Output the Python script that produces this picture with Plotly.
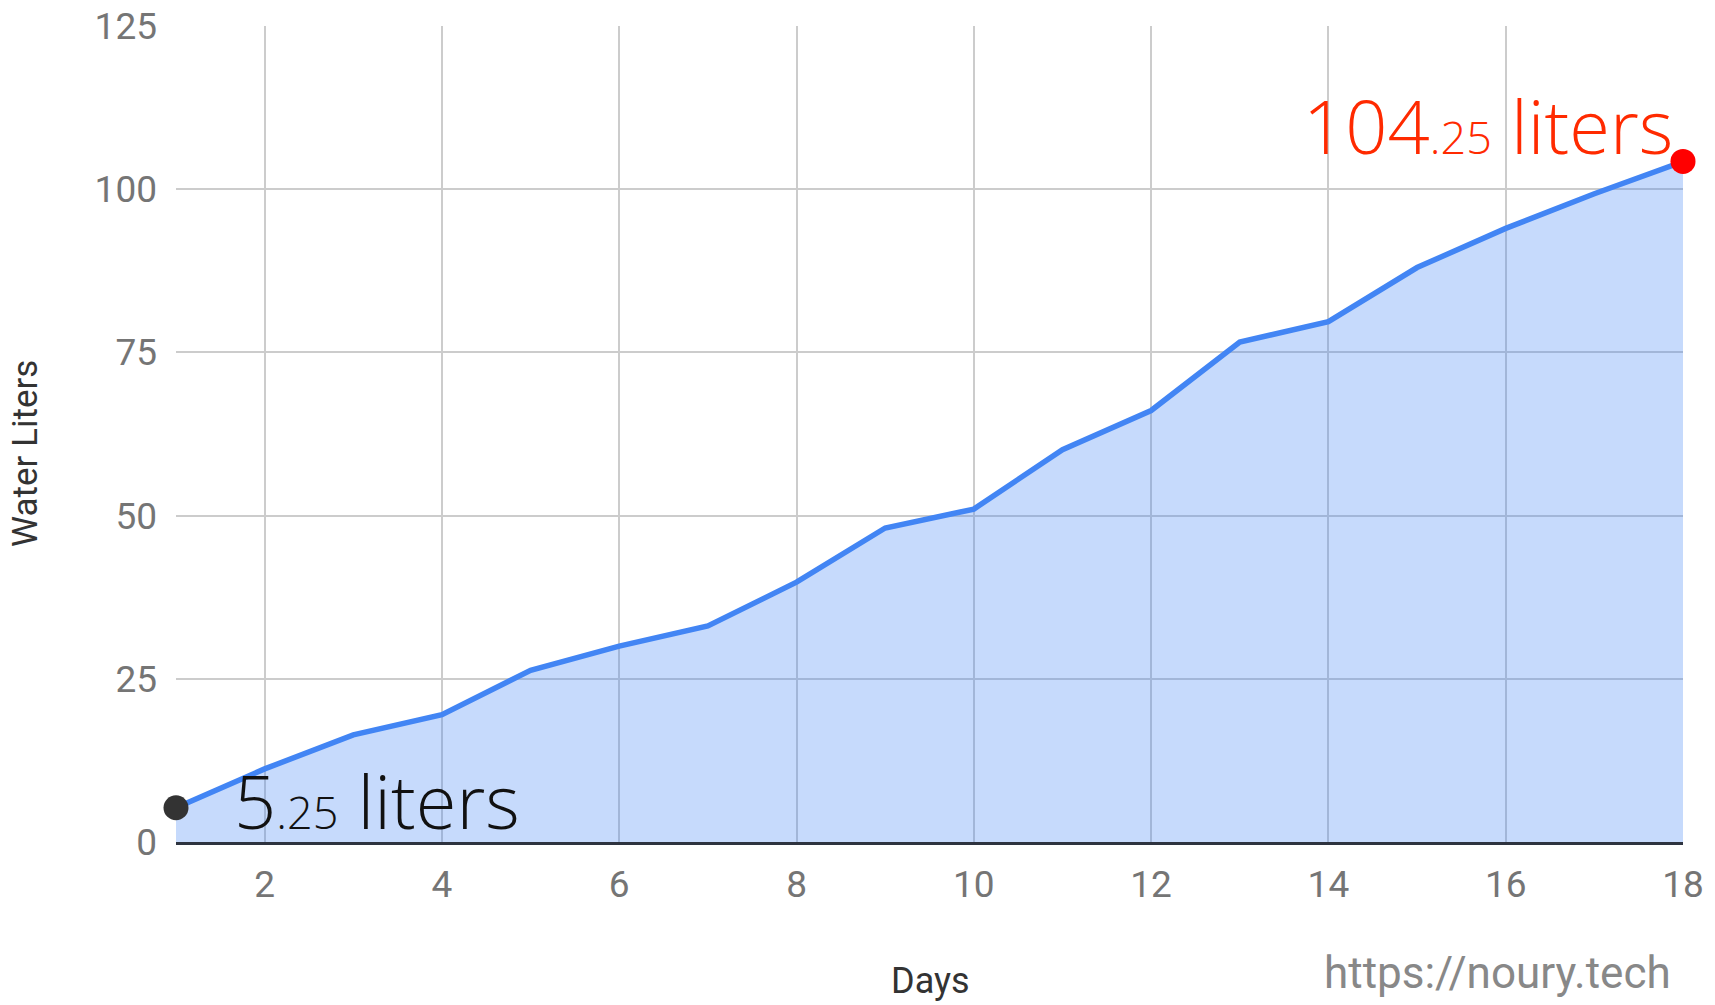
import plotly.graph_objects as go

days = list(range(1, 19))
liters = [5.25, 11.2, 16.4, 19.5, 26.3, 30.0, 33.1, 39.8, 48.1, 51.0,
          60.1, 66.1, 76.6, 79.7, 88.0, 94.0, 99.3, 104.25]
x_ticks = [2, 4, 6, 8, 10, 12, 14, 16, 18]
y_ticks = [0, 25, 50, 75, 100, 125]

W, H = 1715, 1005
OFF = 8  # page body margin
# target plot box in page pixels
PL, PR, PT, PB = 176, 1683, 26, 842
L, T = PL - OFF, PT - OFF
R = W - (PR - OFF)
B = H - (PB - OFF)
pw = PR - PL
ph = PB - PT

def px(xp):
    return (xp - PL) / pw

def py(yp):
    return (PB - yp) / ph

fig = go.Figure()
fig.add_trace(go.Scatter(
    x=days, y=liters, mode="lines", fill="tozeroy",
    fillcolor="rgba(66,133,244,0.3)",
    line=dict(color="#4285F4", width=5.5),
    hoverinfo="skip", showlegend=False))
fig.add_trace(go.Scatter(
    x=[days[0], days[-1]], y=[liters[0], liters[-1]], mode="markers",
    marker=dict(size=25, color=["#333333", "#FF0000"], line=dict(width=0)),
    cliponaxis=False, showlegend=False, hoverinfo="skip"))

light = dict(family="Open Sans", weight=300)
fig.add_annotation(
    x=days[0], y=liters[0], xanchor="left", yanchor="bottom",
    xshift=56, yshift=-45, showarrow=False,
    text="5<span style='font-size:45px'>.25</span> liters",
    font=dict(size=74, color="#111111", **light))
fig.add_annotation(
    x=days[-1], y=liters[-1], xanchor="right", yanchor="bottom",
    xshift=-8, yshift=-17, showarrow=False,
    text="104<span style='font-size:45px'>.25</span> liters",
    font=dict(size=74, color="#FF2A00", **light))

fig.add_annotation(
    xref="paper", yref="paper", x=px(25), y=py(454),
    text="Water Liters", textangle=-90, showarrow=False,
    xanchor="center", yanchor="middle", borderpad=0,
    font=dict(family="Roboto", size=35, color="#333333"))
fig.add_annotation(
    xref="paper", yref="paper", x=px(930), y=py(981),
    text="Days", showarrow=False, xanchor="center", yanchor="middle",
    font=dict(family="Roboto", size=36, color="#333333"))
fig.add_annotation(
    xref="paper", yref="paper", x=px(1673), y=py(973),
    text="https://noury.tech", showarrow=False, xanchor="right", yanchor="middle",
    font=dict(family="Roboto", size=44, color="#888888"))

fig.update_layout(
    width=W, height=H, margin=dict(l=L, r=R, t=T, b=B, autoexpand=False),
    paper_bgcolor="white", plot_bgcolor="white",
    font=dict(family="Roboto", color="#757575"),
)
fig.update_xaxes(
    range=[1, 18], tickvals=x_ticks, ticktext=[str(v) for v in x_ticks],
    showgrid=True, gridcolor="#CCCCCC", gridwidth=2, automargin=False,
    zeroline=False, showline=True, linecolor="#2E3440", linewidth=3,
    ticks="", ticklabelstandoff=8, ticklabeloverflow="allow",
    tickfont=dict(family="Roboto", size=37, color="#757575"))
fig.update_yaxes(
    range=[0, 125], tickvals=y_ticks, ticktext=[str(v) for v in y_ticks],
    showgrid=True, gridcolor="#CCCCCC", gridwidth=2, automargin=False,
    zeroline=False, showline=False, ticks="", ticklabelstandoff=18,
    ticklabeloverflow="allow",
    tickfont=dict(family="Roboto", size=37, color="#757575"))

fig.write_html("out.html")
